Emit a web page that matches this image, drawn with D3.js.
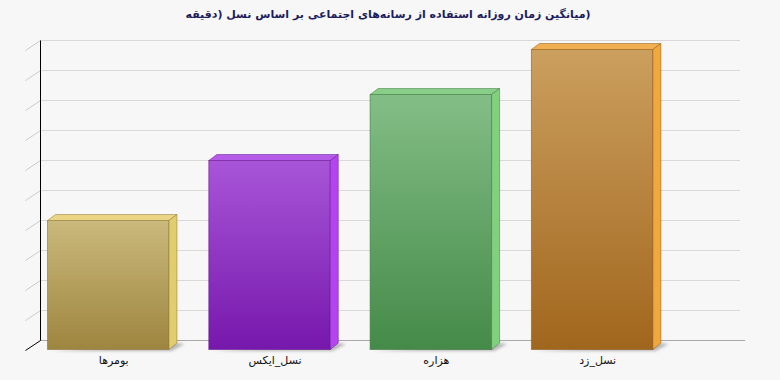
<!DOCTYPE html>
<html>
<head>
<meta charset="utf-8">
<script src="https://cdn.jsdelivr.net/npm/d3@7"></script>
<style>
  body { margin: 0; background: #f7f7f7; }
  svg { display: block; }
</style>
</head>
<body>
<svg id="chart" width="780" height="380"></svg>
<script>
// data
var categories = ["بومرها", "نسل_ایکس", "هزاره", "نسل_زد"];
var values = [43, 63, 85, 100];
var yTicks = [0, 10, 20, 30, 40, 50, 60, 70, 80, 90, 100];
// the original puts the title in a left-to-right line, so the closing bracket ends up on the right
var titleText = "\u2066\u2067میانگین زمان روزانه استفاده از رسانه‌های اجتماعی بر اساس نسل (دقیقه\u2069)\u2069";

// colours per bar: front top, front bottom, top face, side face, edge
var frontTop = ["#cab97c", "#a855d8", "#83be86", "#cb9f5e"];
var frontBottom = ["#9e853f", "#7618ac", "#458a49", "#a1661d"];
var topColor = ["#ebd584", "#b45ce8", "#88cd88", "#f0b052"];
var sideColor = ["#e2cd6e", "#b444f2", "#80d07d", "#f0a83c"];
var edgeColor = ["#8a7535", "#65168f", "#3d7540", "#8a5818"];

var svg = d3.select("#chart");
var W = 780, H = 380;

svg.append("rect").attr("width", W).attr("height", H).attr("fill", "#f7f7f7");

// depth of the chart walls and of the bars
var wallDx = -15, wallDy = 10;
var barDx = 8, barDy = -6;

// back wall scale and front scale
var yBack = d3.scaleLinear().domain([0, 100]).range([340.5, 40.5]);
var yFront = d3.scaleLinear().domain([0, 100]).range([349, 49]);

var x = d3.scaleBand()
    .domain(categories)
    .range([47, 652.4])
    .paddingInner(0.247)
    .paddingOuter(0);

var defs = svg.append("defs");
categories.forEach(function (c, i) {
    var g = defs.append("linearGradient")
        .attr("id", "grad" + i)
        .attr("x1", "0%").attr("y1", "0%")
        .attr("x2", "0%").attr("y2", "100%");
    g.append("stop").attr("offset", "0%").attr("stop-color", frontTop[i]);
    g.append("stop").attr("offset", "100%").attr("stop-color", frontBottom[i]);
});
defs.append("filter").attr("id", "blur")
    .attr("x", "-20%").attr("y", "-50%").attr("width", "140%").attr("height", "200%")
    .append("feGaussianBlur").attr("stdDeviation", 1.5);

// grid lines on the back wall
svg.append("g")
    .selectAll("line")
    .data(yTicks.slice(1))
    .enter()
    .append("line")
    .attr("x1", 40).attr("x2", 740)
    .attr("y1", function (d) { return yBack(d); })
    .attr("y2", function (d) { return yBack(d); })
    .attr("stroke", "#d9d9d9")
    .attr("stroke-width", 1);

// floor line
svg.append("line")
    .attr("x1", 40).attr("x2", 745)
    .attr("y1", yBack(0)).attr("y2", yBack(0))
    .attr("stroke", "#a8a8a8");

// diagonal tick marks (no labels)
svg.append("g")
    .selectAll("line")
    .data(yTicks.slice(1))
    .enter()
    .append("line")
    .attr("x1", 40.5).attr("x2", 40.5 + wallDx)
    .attr("y1", function (d) { return yBack(d); })
    .attr("y2", function (d) { return yBack(d) + wallDy; })
    .attr("stroke", "#cccccc");

// y axis and its foot
svg.append("line")
    .attr("x1", 40.5).attr("x2", 40.5)
    .attr("y1", yBack(100)).attr("y2", yBack(0))
    .attr("stroke", "#000");
svg.append("line")
    .attr("x1", 40.5).attr("x2", 40.5 + wallDx)
    .attr("y1", yBack(0)).attr("y2", yBack(0) + wallDy)
    .attr("stroke", "#000");

// bars
var bars = svg.append("g")
    .selectAll("g")
    .data(values)
    .enter()
    .append("g");

var base = yFront(0);

// shadow
bars.append("polygon")
    .attr("points", function (d, i) {
        var x0 = x(categories[i]), w = x.bandwidth();
        return [[x0 + 3, base + 2], [x0 + w + 3, base + 2],
                [x0 + w + barDx + 8, base + barDy + 1], [x0 + w + barDx, base + barDy]].join(" ");
    })
    .attr("fill", "#8a8a8a")
    .attr("opacity", 0.6)
    .attr("filter", "url(#blur)");

// front face
bars.append("rect")
    .attr("x", function (d, i) { return x(categories[i]) + 0.5; })
    .attr("y", function (d) { return yFront(d) + 0.5; })
    .attr("width", x.bandwidth())
    .attr("height", function (d) { return base - yFront(d); })
    .attr("fill", function (d, i) { return "url(#grad" + i + ")"; })
    .attr("stroke", function (d, i) { return edgeColor[i]; })
    .attr("stroke-opacity", 0.6);

// top face
bars.append("polygon")
    .attr("points", function (d, i) {
        var x0 = x(categories[i]) + 0.5, w = x.bandwidth(), yt = yFront(d) + 0.5;
        return [[x0, yt], [x0 + barDx, yt + barDy], [x0 + w + barDx, yt + barDy], [x0 + w, yt]].join(" ");
    })
    .attr("fill", function (d, i) { return topColor[i]; })
    .attr("stroke", function (d, i) { return edgeColor[i]; })
    .attr("stroke-opacity", 0.5)
    .attr("stroke-linejoin", "round");

// side face
bars.append("polygon")
    .attr("points", function (d, i) {
        var x0 = x(categories[i]) + 0.5, w = x.bandwidth(), yt = yFront(d) + 0.5;
        return [[x0 + w, yt], [x0 + w + barDx, yt + barDy],
                [x0 + w + barDx, base + barDy], [x0 + w, base + 0.5]].join(" ");
    })
    .attr("fill", function (d, i) { return sideColor[i]; })
    .attr("stroke", function (d, i) { return edgeColor[i]; })
    .attr("stroke-opacity", 0.5)
    .attr("stroke-linejoin", "round");

// category labels
svg.append("g")
    .selectAll("text")
    .data(categories)
    .enter()
    .append("text")
    .attr("x", function (d) { return x(d) + x.bandwidth() / 2 + 6; })
    .attr("y", 364)
    .attr("text-anchor", "middle")
    .attr("font-family", "DejaVu Sans, sans-serif")
    .attr("font-size", 11)
    .attr("fill", "#111")
    .text(function (d) { return d; });

// title
svg.append("text")
    .attr("x", 388)
    .attr("y", 18)
    .attr("text-anchor", "middle")
    .style("direction", "ltr")
    .style("unicode-bidi", "embed")
    .attr("font-family", "DejaVu Sans, sans-serif")
    .attr("font-weight", "bold")
    .attr("font-size", 11)
    .attr("fill", "#1c1c5e")
    .text(titleText);
</script>
</body>
</html>
